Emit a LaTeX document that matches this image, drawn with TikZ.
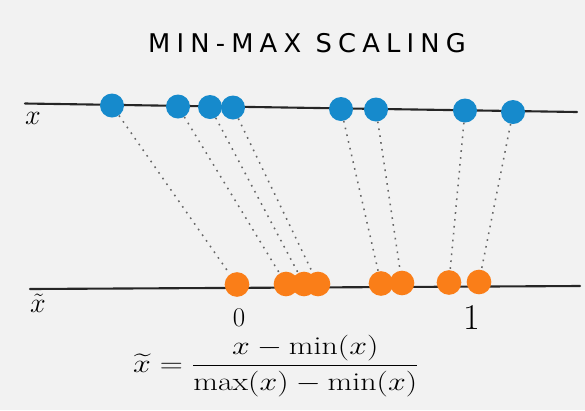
\RequirePackage{fix-cm}
\documentclass[tikz,border=0pt]{standalone}
\usepackage{amsmath}
\usepackage{graphicx}
\usepackage{fontspec}
\definecolor{scaleBlue}{RGB}{22,138,204}
\definecolor{scaleOrange}{RGB}{250,126,24}
\definecolor{scalePaper}{RGB}{242,242,242}
\newfontfamily\titlefont[LetterSpace=24]{DejaVu Sans}
\usetikzlibrary{positioning}

\begin{document}
\begin{tikzpicture}[x=0.03cm, y=-0.03cm,
  dotb/.style={circle, fill=scaleBlue, minimum size=0.72cm, inner sep=0pt},
  doto/.style={circle, fill=scaleOrange, minimum size=0.74cm, inner sep=0pt},
  axis/.style={line width=1.8pt, black!85, line cap=round},
  link/.style={line width=1.3pt, black!60, dash pattern=on 1.4pt off 4.5pt},
  lbl/.style={inner sep=1pt}
]
  \fill[scalePaper] (0,0) rectangle (585,410);
  \node[lbl, font=\titlefont\fontsize{22}{26}\selectfont] (title) at (307,43) {MIN-MAX SCALING};

  % the two axes
  \coordinate (xl) at (25,103.5);  \coordinate (xr) at (577,112);
  \coordinate (tl) at (30,289);    \coordinate (tr) at (580,286);
  \draw[axis] (xl) -- (xr);
  \draw[axis] (tl) -- (tr);
  \node[lbl, font=\fontsize{24}{24}\selectfont] (xlab) at (33,118) {$x$};
  \node[lbl, font=\fontsize{24}{24}\selectfont] (tlab) at (38,303) {$\tilde{x}$};

  % raw values and their scaled values
  \foreach \i/\px/\py in {1/112/105.5, 2/178/106.5, 3/210/107, 4/233/107.5,
                          5/341/109, 6/376/109.5, 7/465/110.5, 8/513/112}
    \node[dotb] (b\i) at (\px,\py) {};
  \foreach \i/\px/\py in {1/237/284.5, 2/286/284, 3/304/284, 4/318/284,
                          5/381/283.5, 6/402/283, 7/449/282.5, 8/479/282}
    \node[doto] (o\i) at (\px,\py) {};
  \foreach \i in {1,...,8}
    \draw[link] (b\i) -- (o\i);

  \node[lbl, font=\fontsize{23}{23}\selectfont] (zero) at (239,318) {0};
  \node[lbl, font=\fontsize{31}{31}\selectfont] (one) at (472,317) {1};
  \node[lbl, font=\fontsize{22}{26}\selectfont] (formula) at (276,366)
    {\scalebox{1.24}[1]{$\displaystyle \widetilde{x} = \frac{x-\min(x)}{\max(x)-\min(x)}$}};
\end{tikzpicture}
\end{document}
